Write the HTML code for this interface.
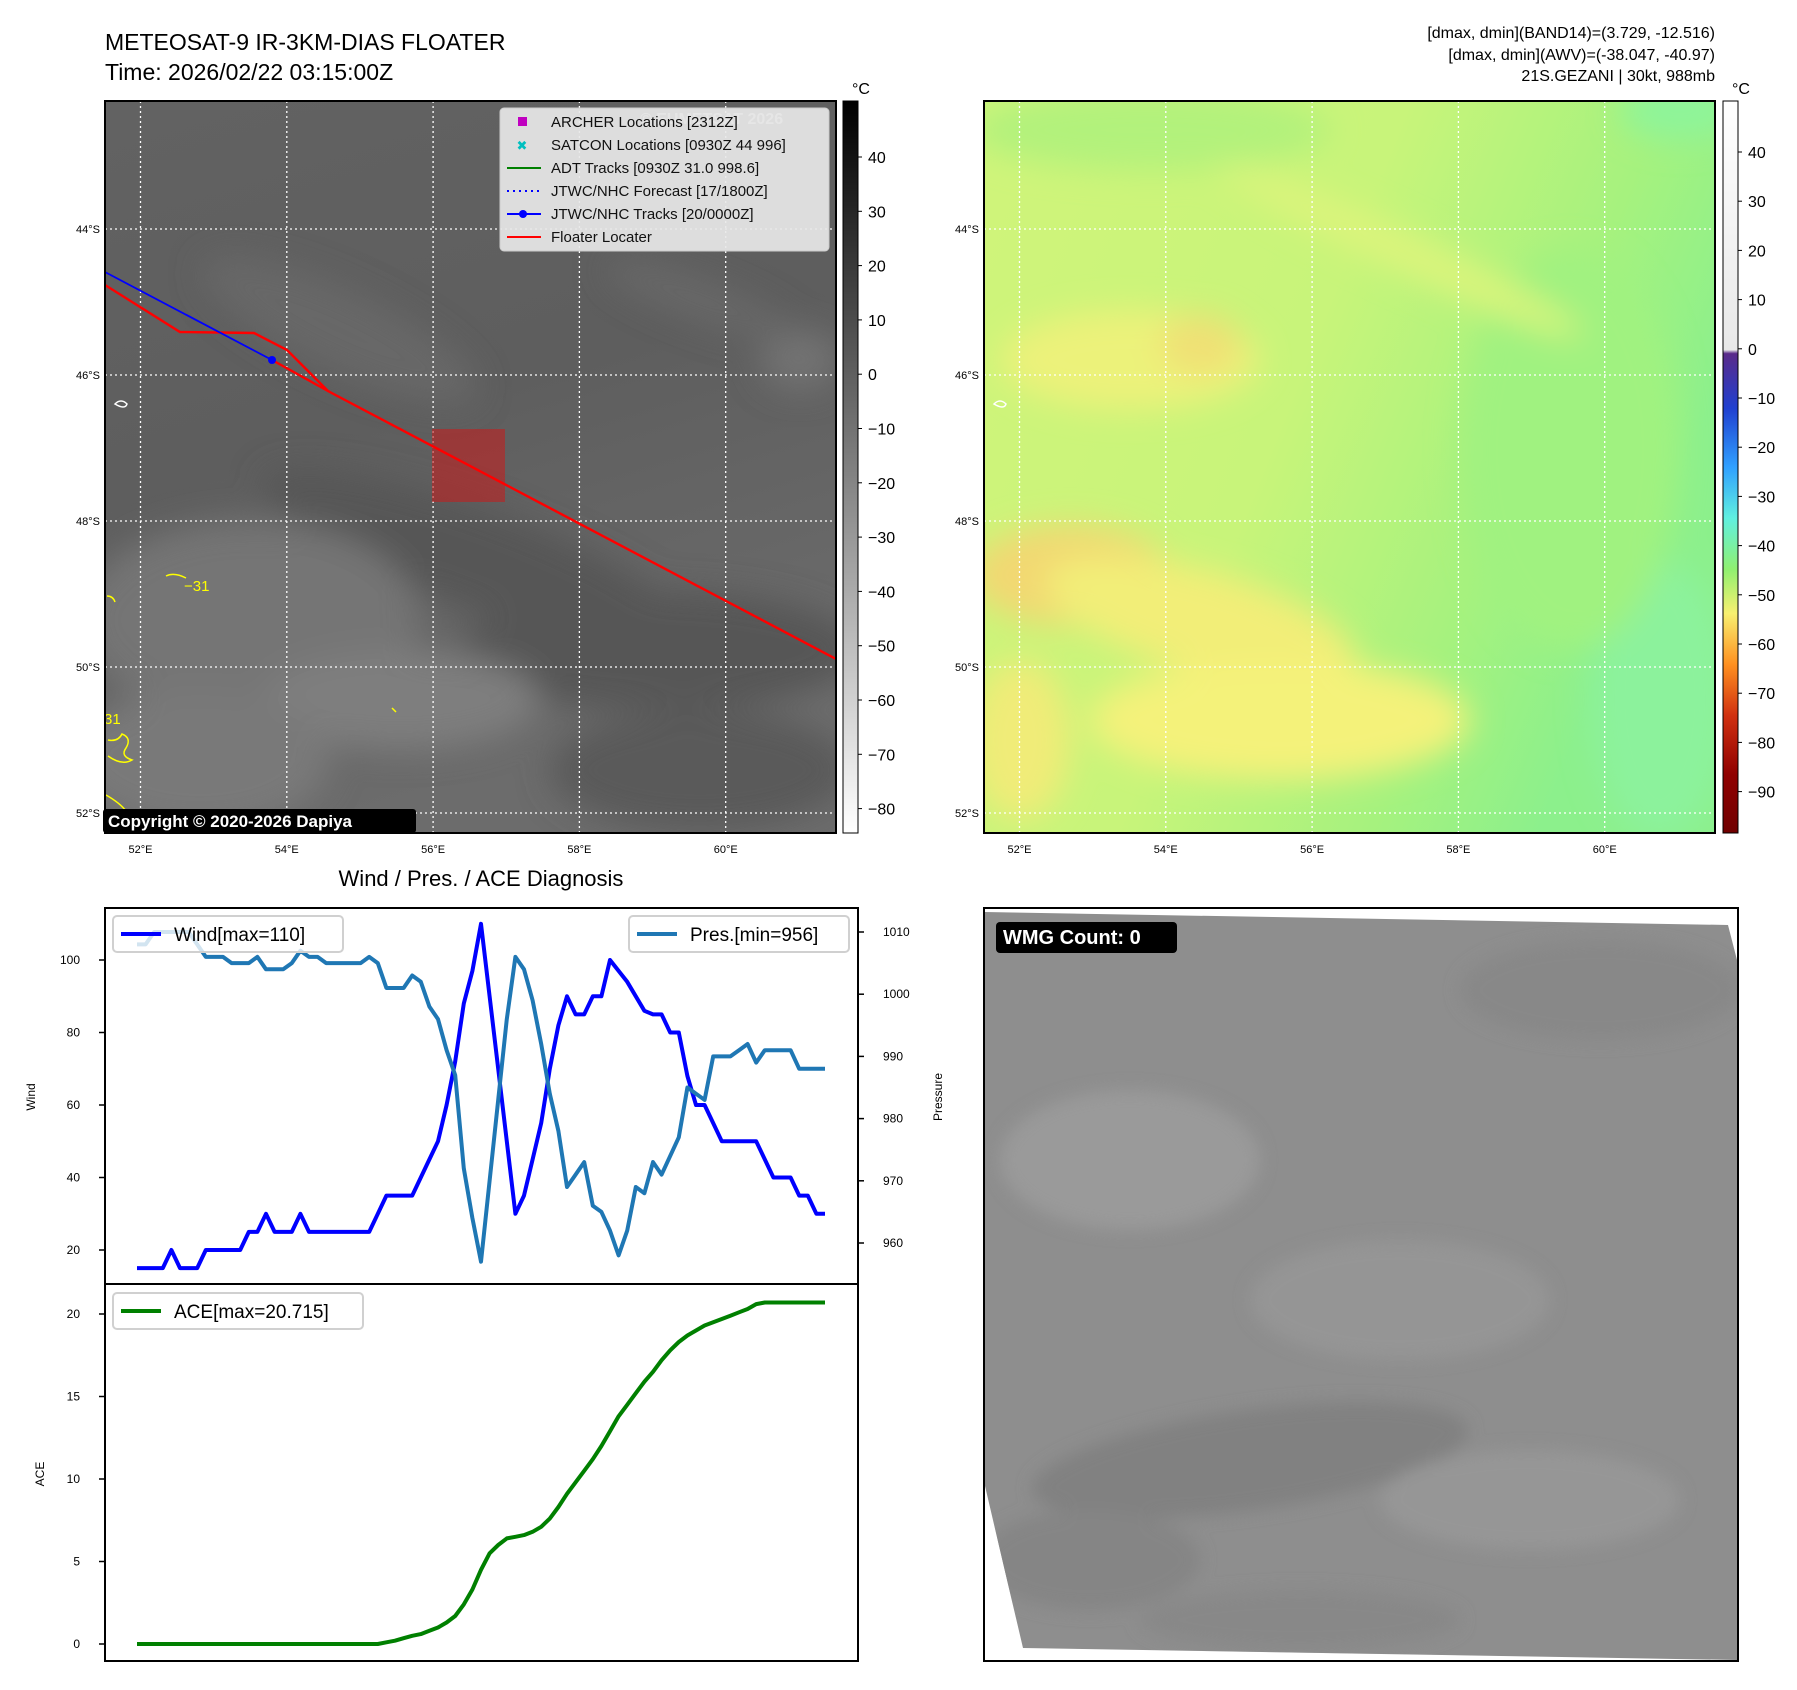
<!DOCTYPE html>
<html><head><meta charset="utf-8">
<style>
html,body{margin:0;padding:0;background:#fff;}
svg{display:block;font-family:"Liberation Sans","DejaVu Sans",sans-serif;}
</style></head>
<body>
<svg id="fig" width="1797" height="1690" viewBox="0 0 1797 1690" xmlns="http://www.w3.org/2000/svg">
<defs>
  <filter id="blur8" x="-20%" y="-20%" width="140%" height="140%"><feGaussianBlur stdDeviation="16"/></filter>
  <filter id="blur4"><feGaussianBlur stdDeviation="8"/></filter>
  <linearGradient id="irBase" x1="0" y1="0" x2="0.3" y2="1">
    <stop offset="0" stop-color="#626262"/><stop offset="0.5" stop-color="#5e5e5e"/><stop offset="1" stop-color="#6c6c6c"/>
  </linearGradient>
  <linearGradient id="grayBar" x1="0" y1="0" x2="0" y2="1">
    <stop offset="0" stop-color="#000"/><stop offset="1" stop-color="#fff"/>
  </linearGradient>
  <linearGradient id="colorBar" x1="0" y1="0" x2="0" y2="1">
    <stop offset="0" stop-color="#ffffff"/><stop offset="0.34" stop-color="#e8e8e8"/>
    <stop offset="0.345" stop-color="#5a2a8a"/><stop offset="0.42" stop-color="#2040d0"/>
    <stop offset="0.5" stop-color="#30a0ff"/><stop offset="0.57" stop-color="#60f0e0"/>
    <stop offset="0.64" stop-color="#90f070"/><stop offset="0.7" stop-color="#f8f070"/>
    <stop offset="0.77" stop-color="#ff9020"/><stop offset="0.84" stop-color="#d03010"/>
    <stop offset="0.92" stop-color="#900000"/><stop offset="1" stop-color="#700000"/>
  </linearGradient>
  <linearGradient id="awvBase" x1="0" y1="0" x2="1" y2="0.4">
    <stop offset="0" stop-color="#d0f47a"/><stop offset="0.5" stop-color="#c8f47a"/><stop offset="0.8" stop-color="#a6f27e"/><stop offset="1" stop-color="#8cf08c"/>
  </linearGradient>
  <clipPath id="clipM1"><rect x="105" y="101" width="731" height="732"/></clipPath>
  <clipPath id="clipM2"><rect x="984" y="101" width="731" height="732"/></clipPath>
  <clipPath id="wmgClip"><polygon points="985,912 1728,925 1737,960 1737,1660 1023,1648 985,1486"/></clipPath>
</defs>

<!-- Titles -->
<text x="105" y="50" font-size="23" fill="#000">METEOSAT-9 IR-3KM-DIAS FLOATER</text>
<text x="105" y="80" font-size="23" fill="#000">Time: 2026/02/22 03:15:00Z</text>
<g font-size="16" text-anchor="end">
  <text x="1715" y="38">[dmax, dmin](BAND14)=(3.729, -12.516)</text>
  <text x="1715" y="60">[dmax, dmin](AWV)=(-38.047, -40.97)</text>
  <text x="1715" y="81">21S.GEZANI | 30kt, 988mb</text>
</g>

<!-- Map 1 IR -->
<g clip-path="url(#clipM1)">
  <rect x="105" y="101" width="731" height="732" fill="url(#irBase)"/>
  <g filter="url(#blur8)">
    <ellipse cx="480" cy="560" rx="230" ry="50" fill="#565656" transform="rotate(20 480 560)"/>
    <ellipse cx="660" cy="650" rx="200" ry="60" fill="#575757"/>
    <ellipse cx="250" cy="620" rx="170" ry="100" fill="#747474"/>
    <ellipse cx="400" cy="700" rx="140" ry="50" fill="#7e7e7e"/>
    <ellipse cx="200" cy="760" rx="130" ry="70" fill="#797979"/>
    <ellipse cx="700" cy="770" rx="150" ry="60" fill="#5a5a5a"/>
    <ellipse cx="340" cy="330" rx="150" ry="40" fill="#686868" transform="rotate(25 340 330)"/>
    <ellipse cx="800" cy="360" rx="40" ry="30" fill="#727272"/>
    <ellipse cx="700" cy="300" rx="100" ry="20" fill="#686868" transform="rotate(20 700 300)"/>
  </g>
</g>
<g id="m1grid"></g>
<g id="m1ticks" font-size="11"></g>
<g clip-path="url(#clipM1)">
  <rect x="432" y="429" width="73" height="73" fill="#c02020" fill-opacity="0.6"/>
  <polyline points="105,285 180,332 254,333 287,350 328,391 836,659" fill="none" stroke="#ff0000" stroke-width="2.4"/>
  <polyline points="272,360 328,391" fill="none" stroke="#ff0000" stroke-width="2.4"/>
  <polyline points="105,272 272,360" fill="none" stroke="#0000ff" stroke-width="1.8"/>
  <circle cx="272" cy="360" r="4" fill="#0000ff"/>
  <g fill="none" stroke="#ffff00" stroke-width="1.5">
    <path d="M166,576 q8,-4 20,2"/>
    <path d="M107,596 q6,0 8,6"/>
    <path d="M108,740 q10,2 14,-6 q10,4 4,14 q-6,8 6,12 q-10,6 -24,-4"/>
    <path d="M392,708 l4,4"/>
    <path d="M106,795 q14,8 20,16"/>
  </g>
  <text x="184" y="591" font-size="15" fill="#ffff00">−31</text>
  <text x="104" y="724" font-size="15" fill="#ffff00">31</text>
  <path d="M115,404 q6,-6 12,0 q-2,6 -12,0z" fill="none" stroke="#fff" stroke-width="1.5"/>
  <text x="640" y="124" font-size="16" font-weight="bold" fill="#ccc">© EUMETSAT 2026</text>
</g>
<rect x="105" y="101" width="731" height="732" fill="none" stroke="#000" stroke-width="2"/>

<!-- Legend map1 -->
<g>
  <rect x="500" y="108" width="329" height="143" rx="4" fill="#e8e8e8" fill-opacity="0.92" stroke="#ccc"/>
  <rect x="518" y="117" width="9" height="9" fill="#c000c0"/>
  <text x="522" y="150" font-size="13" fill="#00bfbf" text-anchor="middle" font-weight="bold">✖</text>
  <line x1="507" y1="168" x2="541" y2="168" stroke="#008000" stroke-width="2"/>
  <line x1="507" y1="191" x2="541" y2="191" stroke="#0000ff" stroke-width="2" stroke-dasharray="2,4"/>
  <line x1="507" y1="214" x2="541" y2="214" stroke="#0000ff" stroke-width="2"/><circle cx="523" cy="214" r="4" fill="#0000ff"/>
  <line x1="507" y1="237" x2="541" y2="237" stroke="#ff0000" stroke-width="2"/>
  <g font-size="15" fill="#111">
    <text x="551" y="127">ARCHER Locations [2312Z]</text>
    <text x="551" y="150">SATCON Locations [0930Z 44 996]</text>
    <text x="551" y="173">ADT Tracks [0930Z 31.0 998.6]</text>
    <text x="551" y="196">JTWC/NHC Forecast [17/1800Z]</text>
    <text x="551" y="219">JTWC/NHC Tracks [20/0000Z]</text>
    <text x="551" y="242">Floater Locater</text>
  </g>
</g>
<g>
  <rect x="103" y="809" width="313" height="24" rx="3" fill="#000"/>
  <text x="108" y="827" font-size="17" font-weight="bold" fill="#fff">Copyright © 2020-2026 Dapiya</text>
</g>

<!-- Colorbar 1 -->
<rect x="843" y="101" width="15" height="732" fill="url(#grayBar)" stroke="#000" stroke-width="1"/>
<text x="852" y="94" font-size="16">°C</text>
<g id="cb1" font-size="16"></g>

<!-- Map 2 AWV -->
<g clip-path="url(#clipM2)">
  <rect x="984" y="101" width="731" height="732" fill="url(#awvBase)"/>
  <g filter="url(#blur8)">
    <ellipse cx="1150" cy="130" rx="180" ry="40" fill="#b2f27c"/>
    <ellipse cx="1130" cy="360" rx="130" ry="50" fill="#ecf27a"/>
    <ellipse cx="1200" cy="345" rx="40" ry="30" fill="#f0e074"/>
    <ellipse cx="1070" cy="575" rx="100" ry="50" fill="#f2d872"/>
    <ellipse cx="1200" cy="620" rx="160" ry="50" fill="#f2ee78" transform="rotate(15 1200 620)"/>
    <ellipse cx="1280" cy="720" rx="190" ry="60" fill="#f4f27a"/>
    <ellipse cx="1020" cy="740" rx="50" ry="80" fill="#f0ec78"/>
    <ellipse cx="1660" cy="700" rx="70" ry="140" fill="#8cf29c"/>
    <ellipse cx="1680" cy="110" rx="60" ry="30" fill="#8ef49a"/>
    <ellipse cx="1570" cy="450" rx="110" ry="200" fill="#a0f280"/>
    <ellipse cx="1400" cy="250" rx="200" ry="20" fill="#dcf47c" transform="rotate(25 1400 250)"/>
  </g>
  <path d="M994,404 q6,-6 12,0 q-2,6 -12,0z" fill="none" stroke="#fff" stroke-width="1.5"/>
</g>
<g id="m2grid"></g>
<g id="m2ticks" font-size="11"></g>
<rect x="984" y="101" width="731" height="732" fill="none" stroke="#000" stroke-width="2"/>
<rect x="1723" y="101" width="15" height="732" fill="url(#colorBar)" stroke="#000" stroke-width="1"/>
<text x="1732" y="94" font-size="16">°C</text>
<g id="cb2" font-size="16"></g>

<!-- Wind / Pressure / ACE -->
<text x="481" y="886" font-size="22" text-anchor="middle">Wind / Pres. / ACE Diagnosis</text>
<rect x="105" y="908" width="753" height="376" fill="#fff" stroke="#000" stroke-width="2"/>
<rect x="105" y="1284" width="753" height="377" fill="#fff" stroke="#000" stroke-width="2"/>
<g id="windChart"></g>
<text transform="translate(35,1097) rotate(-90)" font-size="12" text-anchor="middle">Wind</text>
<text transform="translate(942,1097) rotate(-90)" font-size="12" text-anchor="middle">Pressure</text>
<text transform="translate(44,1474) rotate(-90)" font-size="12" text-anchor="middle">ACE</text>

<!-- WMG panel -->
<g>
  <rect x="984" y="908" width="754" height="753" fill="#fff"/>
  <polygon points="985,912 1728,925 1737,960 1737,1660 1023,1648 985,1486" fill="#8e8e8e"/>
  <g clip-path="url(#wmgClip)" filter="url(#blur4)">
    <ellipse cx="1130" cy="1160" rx="130" ry="70" fill="#9a9a9a"/>
    <ellipse cx="1250" cy="1460" rx="220" ry="50" fill="#818181" transform="rotate(-8 1250 1460)"/>
    <ellipse cx="1090" cy="1560" rx="110" ry="50" fill="#858585"/>
    <ellipse cx="1530" cy="1500" rx="150" ry="50" fill="#969696"/>
    <ellipse cx="1600" cy="990" rx="140" ry="50" fill="#888"/>
    <ellipse cx="1400" cy="1300" rx="150" ry="60" fill="#959595"/>
    <ellipse cx="1300" cy="1620" rx="160" ry="30" fill="#888"/>
  </g>
  <rect x="984" y="908" width="754" height="753" fill="none" stroke="#000" stroke-width="2"/>
  <rect x="996" y="922" width="181" height="31" rx="4" fill="#000"/>
  <text x="1003" y="944" font-size="20" font-weight="bold" fill="#fff">WMG Count: 0</text>
</g>
</svg>

<script>
// ---- chart data ----
var timeIdx = [];
for (var k = 0; k < 81; k++) timeIdx.push(k);
var windVals = [15,15,15,15,20,15,15,15,20,20,20,20,20,25,25,30,25,25,25,30,25,25,25,25,25,25,25,25,30,35,35,35,35,40,45,50,60,72,88,97,110,90,70,50,30,35,45,55,70,82,90,85,85,90,90,100,97,94,90,86,85,85,80,80,68,60,60,55,50,50,50,50,50,45,40,40,40,35,35,30,30];
var presVals = [1008,1008,1010,1010,1010,1010,1010,1008,1006,1006,1006,1005,1005,1005,1006,1004,1004,1004,1005,1007,1006,1006,1005,1005,1005,1005,1005,1006,1005,1001,1001,1001,1003,1002,998,996,991,987,972,964,957,970,983,996,1006,1004,999,992,984,978,969,971,973,966,965,962,958,962,969,968,973,971,974,977,985,984,983,990,990,990,991,992,989,991,991,991,991,988,988,988,988];
var aceVals = [0,0,0,0,0,0,0,0,0,0,0,0,0,0,0,0,0,0,0,0,0,0,0,0,0,0,0,0,0,0.1,0.2,0.35,0.5,0.6,0.8,1.0,1.3,1.7,2.4,3.3,4.5,5.5,6.0,6.4,6.5,6.6,6.8,7.1,7.6,8.3,9.1,9.8,10.5,11.2,12.0,12.9,13.8,14.5,15.2,15.9,16.5,17.2,17.8,18.3,18.7,19.0,19.3,19.5,19.7,19.9,20.1,20.3,20.6,20.7,20.7,20.7,20.7,20.7,20.7,20.7,20.7];
var windTicks = [20,40,60,80,100];
var presTicks = [960,970,980,990,1000,1010];
var aceTicks = [0,5,10,15,20];
var lonTicks = [52,54,56,58,60];
var latTicks = [44,46,48,50,52];
var irCbTicks = [40,30,20,10,0,-10,-20,-30,-40,-50,-60,-70,-80];
var awvCbTicks = [40,30,20,10,0,-10,-20,-30,-40,-50,-60,-70,-80,-90];

var NS = 'http://www.w3.org/2000/svg';
function mk(tag, attrs, parent, txt) {
  var e = document.createElementNS(NS, tag);
  for (var a in attrs) e.setAttribute(a, attrs[a]);
  if (txt !== undefined) e.textContent = txt;
  parent.appendChild(e);
  return e;
}
function fmt(v){ return v < 0 ? '\u2212' + Math.abs(v) : '' + v; }

function lonX(lon, x52) { return x52 + (lon - 52) * 73.15; }
function latY(lat) { return 229 + (lat - 44) * 73; }
function drawMap(gridId, tickId, x0, x1, x52) {
  var g = document.getElementById(gridId), t = document.getElementById(tickId);
  lonTicks.forEach(function (lon) {
    var x = lonX(lon, x52);
    var l = mk('line', {x1: x, x2: x, y1: 101, y2: 833, stroke: '#fff', 'stroke-width': 1.3, 'stroke-dasharray': '2,3'}, g);
    
    
    var tx = mk('text', {x: x, y: 853, 'text-anchor': 'middle'}, t, lon + '°E');
    
    
  });
  latTicks.forEach(function (lat) {
    var y = latY(lat);
    var l = mk('line', {x1: x0, x2: x1, y1: y, y2: y, stroke: '#fff', 'stroke-width': 1.3, 'stroke-dasharray': '2,3'}, g);
    
    
    var tx = mk('text', {x: x0 - 5, y: y + 4, 'text-anchor': 'end'}, t, lat + '°S');
    
    
  });
}
drawMap('m1grid', 'm1ticks', 105, 836, 140.5);
drawMap('m2grid', 'm2ticks', 984, 1715, 1019.5);

function drawCb(id, ticks, x, y40, step) {
  var g = document.getElementById(id);
  ticks.forEach(function (v) {
    var y = y40 + (40 - v) / 10 * step;
    mk('line', {x1: x - 4, x2: x, y1: y, y2: y, stroke: '#000'}, g);
    var tx = mk('text', {x: x + 6, y: y + 6}, g, fmt(v));
    
    
  });
}
drawCb('cb1', irCbTicks, 862, 157, 54.3);
drawCb('cb2', awvCbTicks, 1742, 152, 49.2);

var W = document.getElementById('windChart');
function tx_(i) { return 137 + i * (825 - 137) / 80; }
function wy(v) { return 1250 - (v - 20) * 290 / 80; }
function py(v) { return 1243 - (v - 960) * 311 / 50; }
function ay(v) { return 1644 - v * 330 / 20; }

windTicks.forEach(function (v) {
  mk('line', {x1: 99, x2: 105, y1: wy(v), y2: wy(v), stroke: '#000', 'stroke-width': 1.5}, W);
  var t = mk('text', {x: 80, y: wy(v) + 4, 'font-size': 12, 'text-anchor': 'end'}, W, v);
  
  
});
presTicks.forEach(function (v) {
  mk('line', {x1: 858, x2: 864, y1: py(v), y2: py(v), stroke: '#000', 'stroke-width': 1.5}, W);
  var t = mk('text', {x: 883, y: py(v) + 4, 'font-size': 12}, W, v);
  
  
});
aceTicks.forEach(function (v) {
  mk('line', {x1: 99, x2: 105, y1: ay(v), y2: ay(v), stroke: '#000', 'stroke-width': 1.5}, W);
  var t = mk('text', {x: 80, y: ay(v) + 4, 'font-size': 12, 'text-anchor': 'end'}, W, v);
  
  
});
function pts(vals, f) { return vals.map(function (v, i) { return tx_(timeIdx[i]).toFixed(1) + ',' + f(v).toFixed(1); }).join(' '); }
var wl = mk('polyline', {points: pts(windVals, wy), fill: 'none', stroke: '#0000ff', 'stroke-width': 4, 'stroke-linejoin': 'round'}, W);


var pl = mk('polyline', {points: pts(presVals, py), fill: 'none', stroke: '#1f77b4', 'stroke-width': 4, 'stroke-linejoin': 'round'}, W);


var al = mk('polyline', {points: pts(aceVals, ay), fill: 'none', stroke: '#008000', 'stroke-width': 4, 'stroke-linejoin': 'round'}, W);



function legend(x, y, w, color, label, name) {
  var g = mk('g', {}, W);
  
  
  mk('rect', {x: x, y: y, width: w, height: 36, rx: 4, fill: '#fff', 'fill-opacity': 0.8, stroke: '#d0d0d0', 'stroke-width': 2}, g);
  mk('line', {x1: x + 8, x2: x + 48, y1: y + 18, y2: y + 18, stroke: color, 'stroke-width': 4}, g);
  mk('text', {x: x + 61, y: y + 25, 'font-size': 19}, g, label);
}
legend(113, 916, 230, '#0000ff', 'Wind[max=110]', 'wind-legend');
legend(629, 916, 220, '#1f77b4', 'Pres.[min=956]', 'pressure-legend');
legend(113, 1293, 250, '#008000', 'ACE[max=20.715]', 'ace-legend');
</script>
</body></html>
